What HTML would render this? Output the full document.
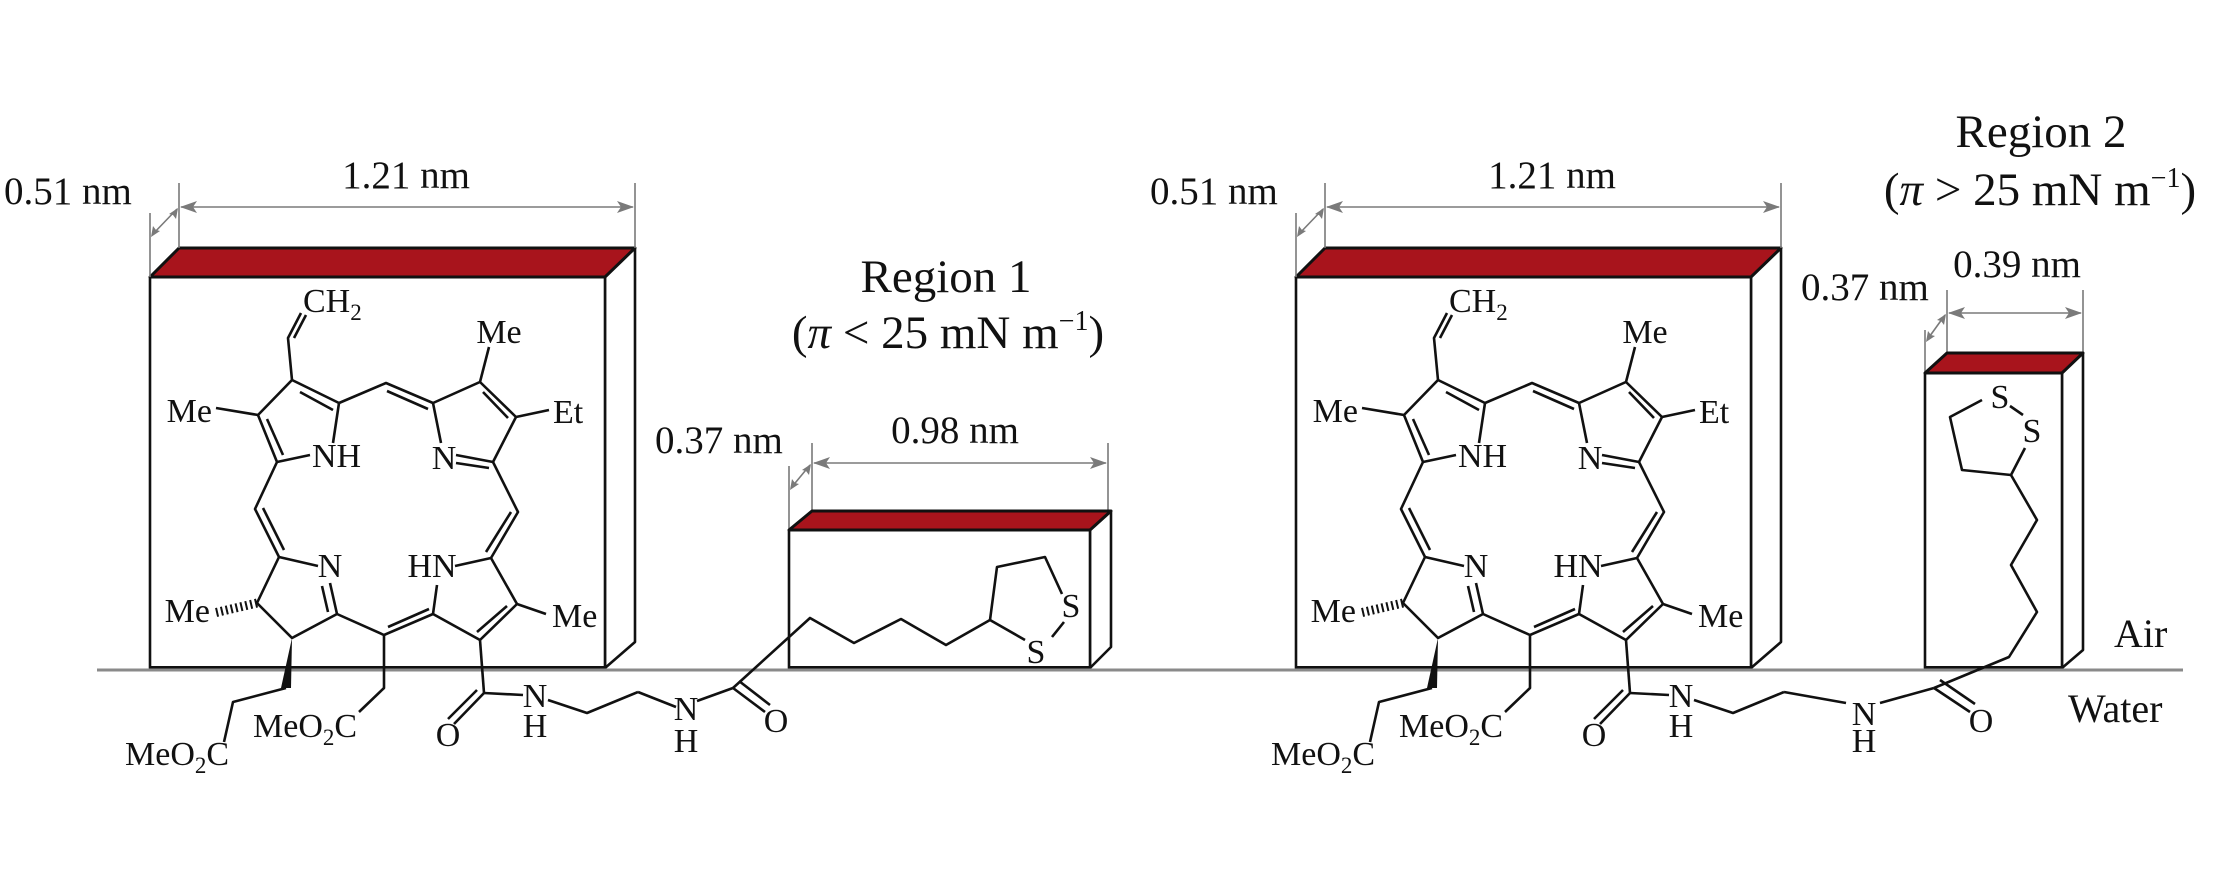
<!DOCTYPE html>
<html><head><meta charset="utf-8"><style>
html,body{margin:0;padding:0;background:#fff;}
svg{display:block;}
</style></head><body>
<svg width="2213" height="886" viewBox="0 0 2213 886" xmlns="http://www.w3.org/2000/svg">
<rect x="0" y="0" width="2213" height="886" fill="#ffffff"/>

<!-- ===== porphyrin box left ===== -->
<g stroke="#111" stroke-width="2.6" stroke-linejoin="round">
<polygon fill="#fff" points="605,277 635,248 635,642 605,668"/>
<rect fill="#fff" x="150" y="277" width="455" height="391"/>
<polygon fill="#a8141c" stroke-width="3" points="150,277 179,248 635,248 605,277"/>
<line x1="150" y1="668" x2="605" y2="668" stroke-width="4"/>
</g>
<!-- porphyrin box right -->
<g stroke="#111" stroke-width="2.6" stroke-linejoin="round" transform="translate(1146,0)">
<polygon fill="#fff" points="605,277 635,248 635,642 605,668"/>
<rect fill="#fff" x="150" y="277" width="455" height="391"/>
<polygon fill="#a8141c" stroke-width="3" points="150,277 179,248 635,248 605,277"/>
<line x1="150" y1="668" x2="605" y2="668" stroke-width="4"/>
</g>

<!-- dims porphyrin (left and right) -->
<g stroke="#7a7a7a" stroke-width="1.6" fill="none">
<line x1="179" y1="183" x2="179" y2="248"/>
<line x1="635" y1="183" x2="635" y2="248"/>
<line x1="150" y1="213" x2="150" y2="277"/>
<line x1="181" y1="207" x2="633" y2="207"/>
<line x1="152" y1="235" x2="177" y2="209"/>
<line x1="1325" y1="183" x2="1325" y2="248"/>
<line x1="1781" y1="183" x2="1781" y2="248"/>
<line x1="1296" y1="213" x2="1296" y2="277"/>
<line x1="1327" y1="207" x2="1779" y2="207"/>
<line x1="1298" y1="235" x2="1323" y2="209"/>
<!-- region1 -->
<line x1="812" y1="443" x2="812" y2="511"/>
<line x1="1108" y1="443" x2="1108" y2="511"/>
<line x1="789" y1="466" x2="789" y2="530"/>
<line x1="814" y1="463" x2="1106" y2="463"/>
<line x1="791" y1="488" x2="810" y2="465"/>
<!-- region2 -->
<line x1="1947" y1="290" x2="1947" y2="353"/>
<line x1="2083" y1="290" x2="2083" y2="353"/>
<line x1="1925" y1="330" x2="1925" y2="373"/>
<line x1="1949" y1="313" x2="2081" y2="313"/>
<line x1="1927" y1="340" x2="1945" y2="315"/>
</g>
<g fill="#7a7a7a">
<polygon points="180,207 197,201 193,207 197,213"/>
<polygon points="634,207 617,201 621,207 617,213"/>
<polygon points="1326,207 1343,201 1339,207 1343,213"/>
<polygon points="1780,207 1763,201 1767,207 1763,213"/>
<polygon points="813,463 830,457 826,463 830,469"/>
<polygon points="1107,463 1090,457 1094,463 1090,469"/>
<polygon points="1948,313 1965,307 1961,313 1965,319"/>
<polygon points="2082,313 2065,307 2069,313 2065,319"/>
<!-- small diagonal arrowheads -->
<polygon points="151,237 153,226 156,230 160,231"/>
<polygon points="178,208 176,219 173,215 169,214"/>
<polygon points="1297,237 1299,226 1302,230 1306,231"/>
<polygon points="1324,208 1322,219 1319,215 1315,214"/>
<polygon points="790,490 792,479 795,483 799,484"/>
<polygon points="811,464 809,475 806,471 802,470"/>
<polygon points="1926,342 1928,331 1931,335 1935,336"/>
<polygon points="1946,314 1944,325 1941,321 1937,320"/>
</g>

<!-- region boxes -->
<g stroke="#111" stroke-width="2.6" stroke-linejoin="round">
<polygon fill="#fff" points="1090,530 1111,511 1111,647 1090,668"/>
<rect fill="#fff" x="789" y="530" width="301" height="138"/>
<polygon fill="#a8141c" stroke-width="3" points="789,530 812,511 1111,511 1090,530"/>
<line x1="789" y1="668" x2="1090" y2="668" stroke-width="4"/>
<polygon fill="#fff" points="2062,373 2083,353 2083,650 2062,668"/>
<rect fill="#fff" x="1925" y="373" width="137" height="295"/>
<polygon fill="#a8141c" stroke-width="3" points="1925,373 1947,353 2083,353 2062,373"/>
<line x1="1925" y1="668" x2="2062" y2="668" stroke-width="4"/>
</g>

<!-- ground -->
<line x1="97" y1="670" x2="2183" y2="670" stroke="#8a8a8a" stroke-width="3"/>

<!-- texts -->
<g font-family="Liberation Serif, serif" fill="#111">
<text x="406" y="188" font-size="39" text-anchor="middle">1.21 nm</text>
<text x="4" y="204" font-size="39">0.51 nm</text>
<text x="1552" y="188" font-size="39" text-anchor="middle">1.21 nm</text>
<text x="1150" y="204" font-size="39">0.51 nm</text>
<text x="955" y="443" font-size="39" text-anchor="middle">0.98 nm</text>
<text x="655" y="453" font-size="39">0.37 nm</text>
<text x="2017" y="277" font-size="39" text-anchor="middle">0.39 nm</text>
<text x="1801" y="300" font-size="39">0.37 nm</text>
<text x="946" y="292" font-size="47" text-anchor="middle">Region 1</text>
<text x="948" y="348" font-size="47" text-anchor="middle">(<tspan font-style="italic">π</tspan> &lt; 25 mN m<tspan font-size="28" dy="-18">−1</tspan><tspan dy="18">)</tspan></text>
<text x="2041" y="147" font-size="47" text-anchor="middle">Region 2</text>
<text x="2040" y="205" font-size="47" text-anchor="middle">(<tspan font-style="italic">π</tspan> &gt; 25 mN m<tspan font-size="28" dy="-18">−1</tspan><tspan dy="18">)</tspan></text>
<text x="2114" y="647" font-size="40">Air</text>
<text x="2068" y="722" font-size="40">Water</text>
</g>

<!-- ===== core molecule left ===== -->
<g>
<g stroke="#111" stroke-width="2.6" fill="none" stroke-linejoin="round">
<polyline points="339,403 292,380 258,415 277,462 310,455"/>
<line x1="333" y1="443" x2="339" y2="403"/>
<line x1="300" y1="392" x2="333" y2="410"/>
<line x1="267" y1="419" x2="283" y2="455"/>
<polyline points="292,380 288,338 301,313"/>
<line x1="294" y1="338" x2="306" y2="315"/>
<line x1="216" y1="408" x2="258" y2="415"/>
<polyline points="339,403 386,383 433,403"/>
<line x1="387" y1="391" x2="428" y2="409"/>
<polyline points="433,403 480,382 516,417 493,462"/>
<line x1="433" y1="403" x2="441" y2="443"/>
<line x1="456" y1="455" x2="493" y2="462"/>
<line x1="456" y1="463" x2="489" y2="468"/>
<line x1="483" y1="392" x2="508" y2="418"/>
<line x1="480" y1="382" x2="489" y2="347"/>
<line x1="516" y1="417" x2="549" y2="410"/>
<polyline points="277,462 255,509 279,557"/>
<line x1="263" y1="508" x2="284" y2="550"/>
<polyline points="493,462 518,512 491,558"/>
<line x1="511" y1="512" x2="486" y2="552"/>
<line x1="279" y1="557" x2="318" y2="566"/>
<line x1="330" y1="583" x2="337" y2="614"/>
<line x1="322" y1="586" x2="328" y2="612"/>
<polyline points="337,614 292,638 257,603 279,557"/>
<polyline points="337,614 384,635 433,614"/>
<line x1="388" y1="627" x2="429" y2="609"/>
<line x1="433" y1="614" x2="437" y2="585"/>
<line x1="455" y1="566" x2="491" y2="558"/>
<polyline points="491,558 517,604 480,640 433,614"/>
<line x1="507" y1="606" x2="477" y2="632"/>
<line x1="517" y1="604" x2="546" y2="614"/>
<polyline points="286,688 233,702 224,742"/>
<polyline points="384,635 384,688 359,712"/>
<line x1="480" y1="640" x2="484" y2="693"/>
<line x1="484" y1="693" x2="454" y2="724"/>
<line x1="477" y1="690" x2="448" y2="719"/>
<line x1="484" y1="693" x2="523" y2="695"/>
<polyline points="548,700 587,713 638,692"/>
</g>
<line x1="257" y1="603" x2="214" y2="613" stroke="#111" stroke-width="9" stroke-dasharray="2,3"/>
<polygon points="292,638 281,688 291,688" fill="#111"/>
<g font-family="Liberation Serif, serif" fill="#111" font-size="34">
<text x="312" y="467">NH</text>
<text x="303" y="312">CH<tspan font-size="23" dy="8">2</tspan></text>
<text x="212" y="422" text-anchor="end">Me</text>
<text x="444" y="469" text-anchor="middle">N</text>
<text x="499" y="343" text-anchor="middle">Me</text>
<text x="553" y="423">Et</text>
<text x="330" y="577" text-anchor="middle">N</text>
<text x="210" y="622" text-anchor="end">Me</text>
<text x="432" y="577" text-anchor="middle">HN</text>
<text x="552" y="627">Me</text>
<text x="125" y="765">MeO<tspan font-size="23" dy="8">2</tspan><tspan dy="-8">C</tspan></text>
<text x="253" y="737">MeO<tspan font-size="23" dy="8">2</tspan><tspan dy="-8">C</tspan></text>
<text x="448" y="746" text-anchor="middle">O</text>
<text x="535" y="707" text-anchor="middle">N</text>
<text x="535" y="737" text-anchor="middle">H</text>
</g>
</g>

<!-- ===== core molecule right ===== -->
<g transform="translate(1146,0)">
<g stroke="#111" stroke-width="2.6" fill="none" stroke-linejoin="round">
<polyline points="339,403 292,380 258,415 277,462 310,455"/>
<line x1="333" y1="443" x2="339" y2="403"/>
<line x1="300" y1="392" x2="333" y2="410"/>
<line x1="267" y1="419" x2="283" y2="455"/>
<polyline points="292,380 288,338 301,313"/>
<line x1="294" y1="338" x2="306" y2="315"/>
<line x1="216" y1="408" x2="258" y2="415"/>
<polyline points="339,403 386,383 433,403"/>
<line x1="387" y1="391" x2="428" y2="409"/>
<polyline points="433,403 480,382 516,417 493,462"/>
<line x1="433" y1="403" x2="441" y2="443"/>
<line x1="456" y1="455" x2="493" y2="462"/>
<line x1="456" y1="463" x2="489" y2="468"/>
<line x1="483" y1="392" x2="508" y2="418"/>
<line x1="480" y1="382" x2="489" y2="347"/>
<line x1="516" y1="417" x2="549" y2="410"/>
<polyline points="277,462 255,509 279,557"/>
<line x1="263" y1="508" x2="284" y2="550"/>
<polyline points="493,462 518,512 491,558"/>
<line x1="511" y1="512" x2="486" y2="552"/>
<line x1="279" y1="557" x2="318" y2="566"/>
<line x1="330" y1="583" x2="337" y2="614"/>
<line x1="322" y1="586" x2="328" y2="612"/>
<polyline points="337,614 292,638 257,603 279,557"/>
<polyline points="337,614 384,635 433,614"/>
<line x1="388" y1="627" x2="429" y2="609"/>
<line x1="433" y1="614" x2="437" y2="585"/>
<line x1="455" y1="566" x2="491" y2="558"/>
<polyline points="491,558 517,604 480,640 433,614"/>
<line x1="507" y1="606" x2="477" y2="632"/>
<line x1="517" y1="604" x2="546" y2="614"/>
<polyline points="286,688 233,702 224,742"/>
<polyline points="384,635 384,688 359,712"/>
<line x1="480" y1="640" x2="484" y2="693"/>
<line x1="484" y1="693" x2="454" y2="724"/>
<line x1="477" y1="690" x2="448" y2="719"/>
<line x1="484" y1="693" x2="523" y2="695"/>
<polyline points="548,700 587,713 638,692"/>
</g>
<line x1="257" y1="603" x2="214" y2="613" stroke="#111" stroke-width="9" stroke-dasharray="2,3"/>
<polygon points="292,638 281,688 291,688" fill="#111"/>
<g font-family="Liberation Serif, serif" fill="#111" font-size="34">
<text x="312" y="467">NH</text>
<text x="303" y="312">CH<tspan font-size="23" dy="8">2</tspan></text>
<text x="212" y="422" text-anchor="end">Me</text>
<text x="444" y="469" text-anchor="middle">N</text>
<text x="499" y="343" text-anchor="middle">Me</text>
<text x="553" y="423">Et</text>
<text x="330" y="577" text-anchor="middle">N</text>
<text x="210" y="622" text-anchor="end">Me</text>
<text x="432" y="577" text-anchor="middle">HN</text>
<text x="552" y="627">Me</text>
<text x="125" y="765">MeO<tspan font-size="23" dy="8">2</tspan><tspan dy="-8">C</tspan></text>
<text x="253" y="737">MeO<tspan font-size="23" dy="8">2</tspan><tspan dy="-8">C</tspan></text>
<text x="448" y="746" text-anchor="middle">O</text>
<text x="535" y="707" text-anchor="middle">N</text>
<text x="535" y="737" text-anchor="middle">H</text>
</g>
</g>

<!-- tails -->
<g stroke="#111" stroke-width="2.6" fill="none" stroke-linejoin="round">
<line x1="638" y1="692" x2="676" y2="707"/>
<line x1="697" y1="701" x2="733" y2="688"/>
<line x1="733" y1="688" x2="765" y2="712"/>
<line x1="739" y1="681" x2="770" y2="705"/>
<polyline points="733,688 810,618 854,643 901,619 946,645 990,620 1025,640"/>
<polyline points="990,620 997,567 1045,557 1062,594"/>
<line x1="1064" y1="622" x2="1052" y2="637"/>
<line x1="1784" y1="692" x2="1846" y2="703"/>
<line x1="1880" y1="703" x2="1934" y2="688"/>
<line x1="1934" y1="688" x2="1970" y2="712"/>
<line x1="1940" y1="680" x2="1975" y2="704"/>
<polyline points="1934,688 2009,657 2037,612 2011,565 2037,520 2011,475 2025,448"/>
<polyline points="2011,475 1962,470 1950,417 1982,400"/>
<line x1="2010" y1="406" x2="2023" y2="415"/>
</g>
<g font-family="Liberation Serif, serif" fill="#111" font-size="34">
<text x="686" y="720" text-anchor="middle">N</text>
<text x="686" y="752" text-anchor="middle">H</text>
<text x="776" y="732" text-anchor="middle">O</text>
<text x="1036" y="663" text-anchor="middle">S</text>
<text x="1071" y="617" text-anchor="middle">S</text>
<text x="1864" y="725" text-anchor="middle">N</text>
<text x="1864" y="752" text-anchor="middle">H</text>
<text x="1981" y="732" text-anchor="middle">O</text>
<text x="2032" y="442" text-anchor="middle">S</text>
<text x="2000" y="408" text-anchor="middle">S</text>
</g>
</svg>
</body></html>
